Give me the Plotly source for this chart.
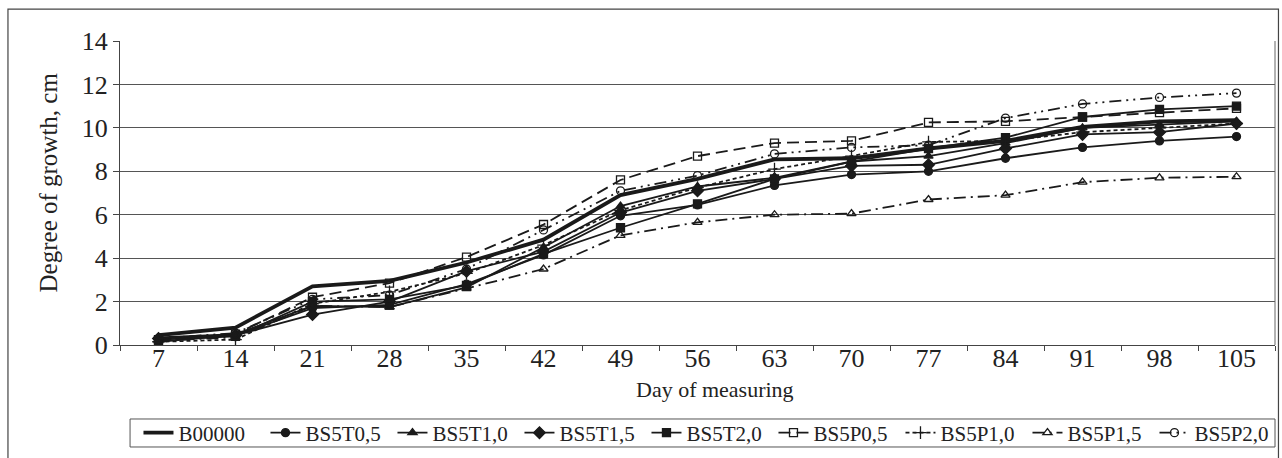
import plotly.graph_objects as go

days = ["7", "14", "21", "28", "35", "42", "49", "56", "63", "70", "77", "84", "91", "98", "105"]

B00000 = [0.45, 0.8, 2.7, 2.95, 3.8, 4.85, 6.9, 7.65, 8.55, 8.6, 9.05, 9.4, 10.05, 10.3, 10.35]
BS5T0_5 = [0.15, 0.45, 1.7, 1.85, 2.8, 4.15, 5.95, 6.45, 7.35, 7.85, 8.0, 8.6, 9.1, 9.4, 9.6]
BS5T1_0 = [0.35, 0.5, 1.8, 1.75, 2.65, 4.5, 6.4, 7.3, 7.7, 8.45, 8.7, 9.3, 10.0, 10.15, 10.3]
BS5T1_5 = [0.3, 0.45, 1.4, 2.0, 3.4, 4.3, 6.1, 7.1, 7.65, 8.25, 8.3, 9.05, 9.7, 9.8, 10.2]
BS5T2_0 = [0.25, 0.4, 2.0, 2.1, 2.75, 4.2, 5.4, 6.5, 7.65, 8.45, 9.05, 9.55, 10.5, 10.85, 11.0]
BS5P0_5 = [0.2, 0.5, 2.2, 2.85, 4.05, 5.55, 7.6, 8.7, 9.3, 9.4, 10.25, 10.3, 10.5, 10.7, 10.9]
BS5P1_0 = [0.15, 0.25, 1.9, 2.45, 3.3, 4.6, 6.2, 7.25, 8.1, 8.7, 9.35, 9.4, 9.8, 10.0, 10.2]
BS5P1_5 = [0.2, 0.35, 1.8, 1.75, 2.6, 3.5, 5.05, 5.65, 6.0, 6.05, 6.7, 6.9, 7.5, 7.7, 7.75]
BS5P2_0 = [0.3, 0.55, 2.1, 2.3, 3.5, 5.3, 7.1, 7.8, 8.8, 9.1, 9.2, 10.45, 11.1, 11.4, 11.6]

series_names = ["B00000", "BS5T0,5", "BS5T1,0", "BS5T1,5", "BS5T2,0",
                "BS5P0,5", "BS5P1,0", "BS5P1,5", "BS5P2,0"]
series_values = [B00000, BS5T0_5, BS5T1_0, BS5T1_5, BS5T2_0,
                 BS5P0_5, BS5P1_0, BS5P1_5, BS5P2_0]

C = "#1a1a1a"
styles = [
    dict(width=3.8, dash="solid", symbol=None, size=0),
    dict(width=1.8, dash="solid", symbol="circle", size=8),
    dict(width=1.8, dash="solid", symbol="triangle-up", size=8),
    dict(width=1.8, dash="solid", symbol="diamond", size=9),
    dict(width=1.8, dash="solid", symbol="square", size=8),
    dict(width=1.8, dash="12px,6px", symbol="square-open", size=8),
    dict(width=1.8, dash="4px,3px", symbol="cross-thin-open", size=9),
    dict(width=1.8, dash="12px,5px,2px,5px", symbol="triangle-up-open", size=8),
    dict(width=1.8, dash="12px,5px,2px,5px,2px,5px", symbol="circle-open", size=8),
]

fig = go.Figure()
for name, vals, st in zip(series_names, series_values, styles):
    if st["symbol"] is None:
        fig.add_trace(go.Scatter(x=days, y=vals, name=name, mode="lines",
                                 line=dict(color=C, width=st["width"], dash=st["dash"])))
    else:
        fig.add_trace(go.Scatter(x=days, y=vals, name=name, mode="lines+markers",
                                 line=dict(color=C, width=st["width"], dash=st["dash"]),
                                 marker=dict(symbol=st["symbol"], size=st["size"], color=C,
                                             line=dict(color=C, width=1.3))))

font = "Liberation Serif, Times New Roman, serif"
fig.update_layout(
    width=1282, height=458,
    margin=dict(l=120, r=7, t=41, b=113, autoexpand=False),
    paper_bgcolor="white", plot_bgcolor="white",
    font=dict(family=font, size=22, color="#222"),
    showlegend=True,
    legend=dict(orientation="h", x=0.016, xanchor="left", y=-0.2895, yanchor="middle",
                borderwidth=0, bgcolor="rgba(0,0,0,0)", font=dict(size=21, family=font),
                itemwidth=30, tracegroupgap=0, entrywidth=82, entrywidthmode="pixels"),
    xaxis=dict(type="category", tickson="boundaries", ticks="outside", ticklen=5,
               tickcolor="#444", showline=True, linecolor="#444", linewidth=1.2,
               showgrid=False, tickfont=dict(size=26), ticklabelstandoff=-10,
               range=[-0.5, 14.5]),
    yaxis=dict(range=[0, 14], dtick=2, ticks="outside", ticklen=6, tickcolor="#444",
               showline=True, linecolor="#444", linewidth=1.2,
               showgrid=True, gridcolor="#555", gridwidth=1, zeroline=False,
               tickfont=dict(size=26)),
    annotations=[
        dict(text="Day of measuring", xref="paper", yref="paper", x=0.515, y=-0.148,
             xanchor="center", yanchor="middle", showarrow=False, font=dict(size=22)),
        dict(text="Degree of growth, cm", xref="paper", yref="paper", x=-0.062, y=0.536,
             xanchor="center", yanchor="middle", textangle=-90, showarrow=False,
             font=dict(size=25)),
    ],
    shapes=[dict(type="rect", xref="paper", yref="paper",
                 x0=-0.097, x1=1.003, y0=-0.40, y1=1.105,
                 line=dict(color="#444", width=1.2), fillcolor="rgba(0,0,0,0)", layer="below"),
            dict(type="rect", xref="paper", yref="paper",
                 x0=0.0087, x1=1.0, y0=-0.3355, y1=-0.2434,
                 line=dict(color="#555", width=1), fillcolor="rgba(0,0,0,0)", layer="below"),
            dict(type="line", xref="paper", yref="paper", x0=1, x1=1, y0=0, y1=1,
                 line=dict(color="#666", width=1))],
)

fig.write_html("out.html")
